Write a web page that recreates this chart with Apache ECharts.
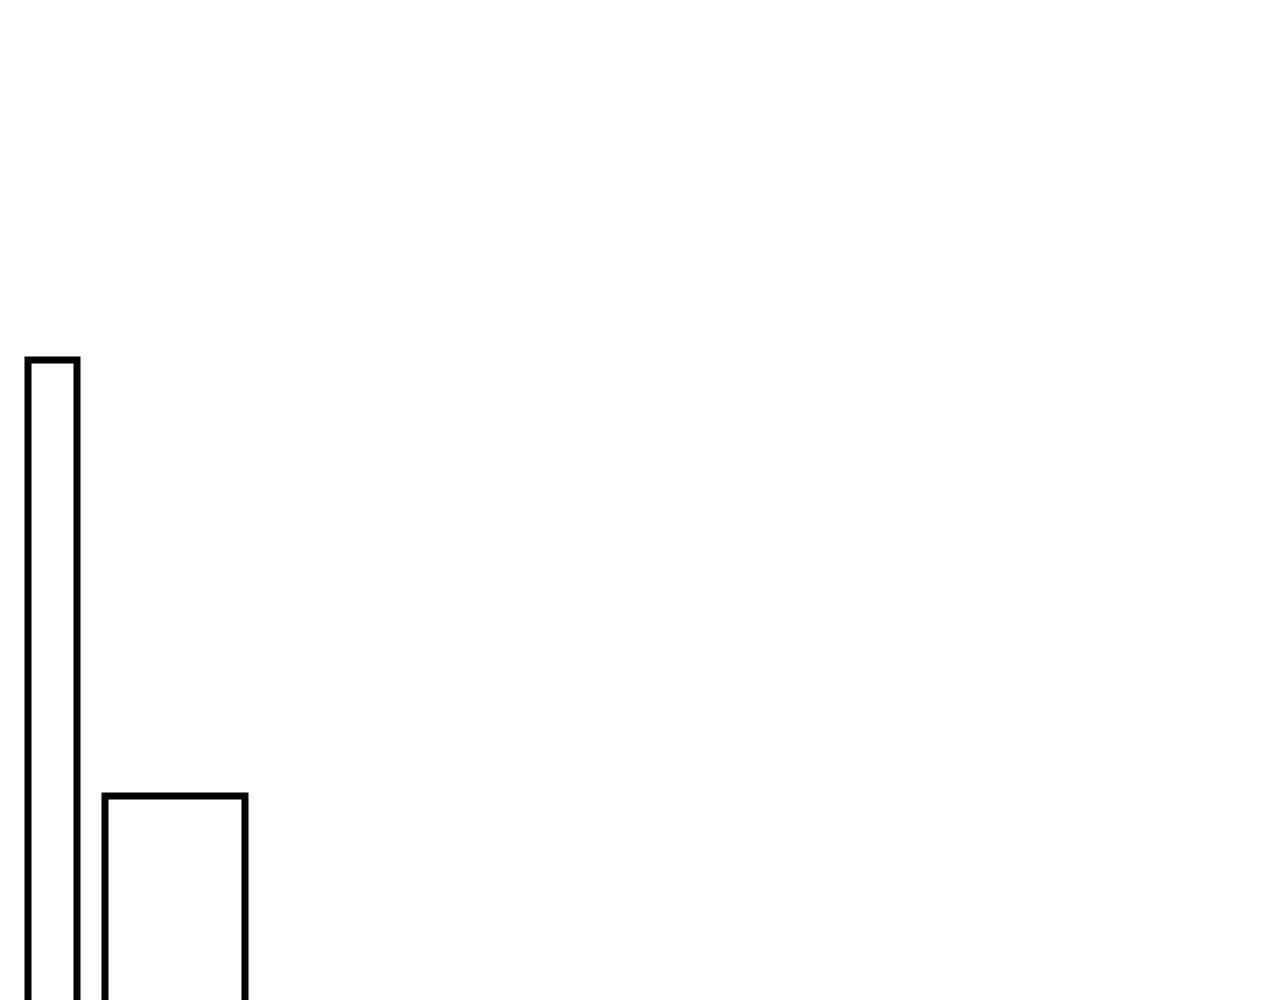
<!DOCTYPE html>
<html>
<head>
<meta charset="utf-8">
<title>Bars</title>
<script src="https://cdn.jsdelivr.net/npm/echarts@6/dist/echarts.min.js"></script>
<style>
  html, body { margin: 0; padding: 0; background: #fff; overflow: hidden; }
  #chart { width: 1280px; height: 1000px; }
</style>
</head>
<body>
<div id="chart"></div>
<script>
// bin edges (start, end) and heights of the two outlined bars
const binStart = [0, 11];
const binEnd = [7, 31];
const heights = [74, 30.4];

const chartDom = document.getElementById("chart");
const myChart = echarts.init(chartDom, null, { renderer: "canvas" });

const data = binStart.map((s, i) => [s, binEnd[i], heights[i]]);

const option = {
  animation: false,
  backgroundColor: "#ffffff",
  grid: { left: 28, right: 62, top: 0, bottom: 0 },
  xAxis: { type: "value", min: 0, max: 170, show: false },
  yAxis: { type: "value", min: 10, max: 110, show: false },
  series: [
    {
      type: "custom",
      clip: false,
      data: data,
      encode: { x: [0, 1], y: 2 },
      renderItem: function (params, api) {
        const topLeft = api.coord([api.value(0), api.value(2)]);
        const bottomRight = api.coord([api.value(1), 0]);
        return {
          type: "rect",
          shape: {
            x: topLeft[0],
            y: topLeft[1],
            width: bottomRight[0] - topLeft[0],
            height: bottomRight[1] - topLeft[1],
          },
          style: { fill: "#ffffff", stroke: "#000000", lineWidth: 7 },
        };
      },
    },
  ],
};
option && myChart.setOption(option);
</script>
</body>
</html>
